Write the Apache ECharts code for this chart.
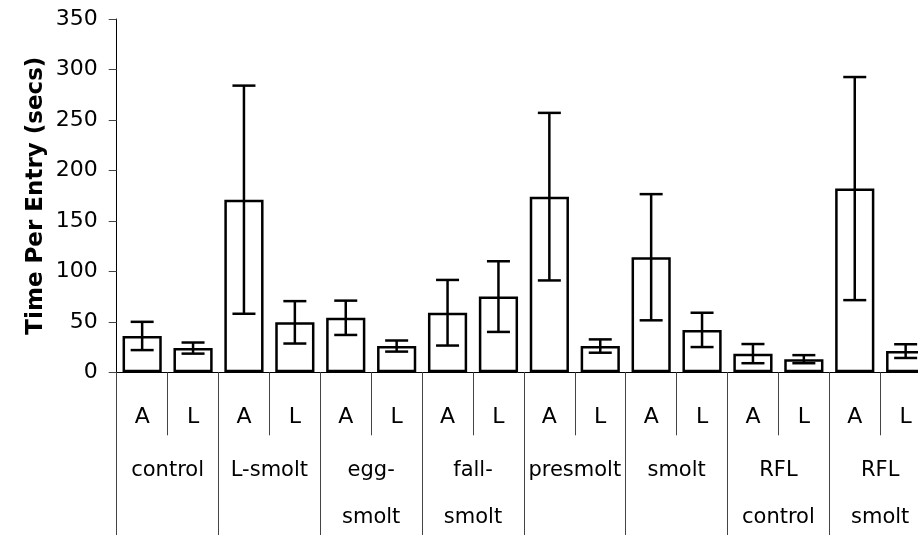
<!DOCTYPE html>
<html>
<head>
<meta charset="utf-8">
<script src="https://cdn.jsdelivr.net/npm/echarts@6/dist/echarts.min.js"></script>
<style>
  html, body { margin: 0; padding: 0; background: #fff; }
  #chart { width: 918px; height: 535px; }
</style>
</head>
<body>
<div id="chart"></div>
<script>
// Treatment groups (outer axis row) and the A / L measurement under each
const groups = ['control', 'L-smolt', 'egg-\nsmolt', 'fall-\nsmolt', 'presmolt', 'smolt', 'RFL\ncontrol', 'RFL\nsmolt'];
const subLabels = ['A', 'L', 'A', 'L', 'A', 'L', 'A', 'L', 'A', 'L', 'A', 'L', 'A', 'L', 'A', 'L'];

// Mean time per entry (secs) and the +/- error for each bar
const means = [36, 24, 171, 49.5, 54, 26, 59, 75, 174, 26, 114, 42, 18.5, 13, 182, 21];
const errors = [14, 5.5, 113, 21, 17, 5.5, 32.5, 35, 83, 6.6, 62.5, 17, 9.5, 4, 110.5, 6.8];

// Y axis ticks
const yMin = 0, yMax = 350, yStep = 50;

const FONT = 'DejaVu Sans';

const errorData = means.map((m, i) => [i, m + errors[i], m - errors[i]]);

const chart = echarts.init(document.getElementById('chart'), null, { renderer: 'canvas' });

chart.setOption({
  backgroundColor: '#ffffff',
  animation: false,
  grid: {
    left: 116.7,
    top: 19,
    width: 814.4,
    height: 353.3,
    containLabel: false,
    outerBoundsMode: 'none'
  },
  xAxis: [
    {
      type: 'category',
      data: subLabels,
      position: 'bottom',
      boundaryGap: true,
      axisLine: { show: true, lineStyle: { color: '#000', width: 1 } },
      axisTick: { show: true, interval: 0, length: 63, lineStyle: { color: '#444', width: 1 } },
      axisLabel: { interval: 0, margin: 34, fontFamily: FONT, fontSize: 22, color: '#000' },
      splitLine: { show: false }
    },
    {
      type: 'category',
      data: groups,
      position: 'bottom',
      boundaryGap: true,
      axisLine: { show: false },
      axisTick: { show: true, interval: 0, length: 165, lineStyle: { color: '#444', width: 1 } },
      axisLabel: { interval: 0, margin: 75, fontFamily: FONT, fontSize: 21, lineHeight: 47, color: '#000' },
      splitLine: { show: false }
    }
  ],
  yAxis: {
    type: 'value',
    min: yMin,
    max: yMax,
    interval: yStep,
    name: 'Time Per Entry (secs)',
    nameLocation: 'middle',
    nameRotate: 90,
    nameGap: 69,
    nameMoveOverlap: false,
    nameTextStyle: { fontFamily: FONT, fontSize: 23, fontWeight: 'bold', color: '#000' },
    axisLine: { show: true, lineStyle: { color: '#000', width: 1 } },
    axisTick: { show: true, inside: false, length: 8, lineStyle: { color: '#444', width: 1 } },
    axisLabel: { margin: 19, fontFamily: FONT, fontSize: 22, color: '#000' },
    splitLine: { show: false }
  },
  series: [
    {
      type: 'bar',
      xAxisIndex: 0,
      data: means,
      barCategoryGap: '23%',
      itemStyle: { color: '#ffffff', borderColor: '#000000', borderWidth: 2.5 },
      silent: true
    },
    {
      type: 'custom',
      xAxisIndex: 0,
      data: errorData,
      z: 5,
      silent: true,
      renderItem: function (params, api) {
        const idx = api.value(0);
        const hi = api.coord([idx, api.value(1)]);
        const lo = api.coord([idx, api.value(2)]);
        const half = 11.5;
        const st = { stroke: '#000', lineWidth: 2.5 };
        return {
          type: 'group',
          children: [
            { type: 'line', shape: { x1: hi[0], y1: hi[1], x2: lo[0], y2: lo[1] }, style: st },
            { type: 'line', shape: { x1: hi[0] - half, y1: hi[1], x2: hi[0] + half, y2: hi[1] }, style: st },
            { type: 'line', shape: { x1: lo[0] - half, y1: lo[1], x2: lo[0] + half, y2: lo[1] }, style: st }
          ]
        };
      }
    }
  ]
});
</script>
</body>
</html>
